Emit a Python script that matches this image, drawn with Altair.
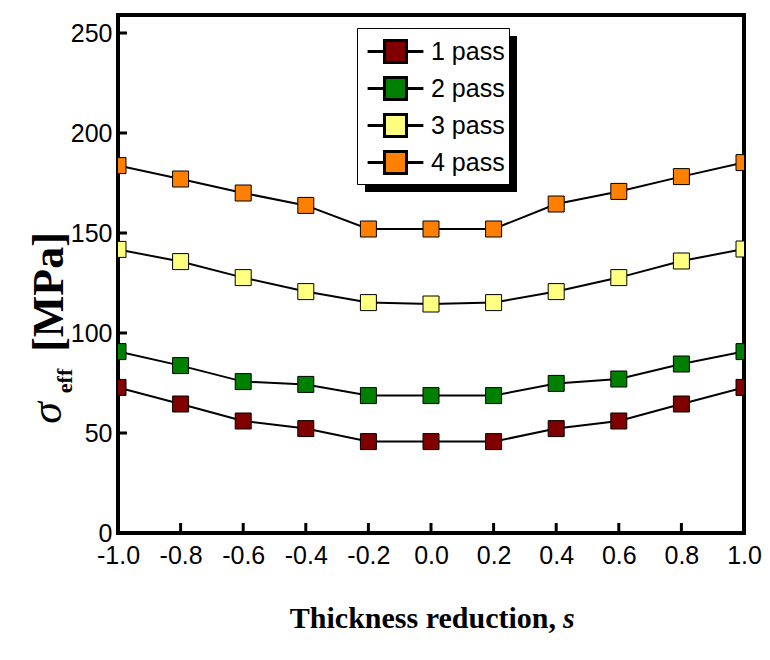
import altair as alt
import pandas as pd

x_vals = [-1.0, -0.8, -0.6, -0.4, -0.2, 0.0, 0.2, 0.4, 0.6, 0.8, 1.0]
pass1 = [72.8, 64.5, 56.0, 52.2, 45.7, 45.7, 45.7, 52.2, 56.0, 64.5, 72.8]
pass2 = [90.7, 83.7, 75.7, 74.3, 68.7, 68.7, 68.7, 74.8, 77.0, 84.5, 90.7]
pass3 = [141.8, 135.7, 127.7, 120.7, 115.2, 114.5, 115.2, 120.7, 127.7, 136.0, 142.0]
pass4 = [183.7, 177.0, 170.0, 163.8, 152.0, 152.0, 152.0, 164.5, 170.8, 178.2, 185.2]
series_names = ["1 pass", "2 pass", "3 pass", "4 pass"]
series_colors = ["#800000", "#008000", "#FFFF80", "#FF8000"]
x_ticks = [-1.0, -0.8, -0.6, -0.4, -0.2, 0.0, 0.2, 0.4, 0.6, 0.8, 1.0]
y_ticks = [0, 50, 100, 150, 200, 250]

rows = []
for name, vals in zip(series_names, [pass1, pass2, pass3, pass4]):
    for xv, yv in zip(x_vals, vals):
        rows.append({"s": xv, "v": yv, "series": name})
df = pd.DataFrame(rows)

W, H = 626, 518
LABEL_FONT = "Liberation Sans"
LBL_EXPR = "datum.value < 0 ? '-' + format(-datum.value, '.1f') : format(datum.value, '.1f')"

xscale = alt.Scale(domain=[-1, 1], nice=False, zero=False)
yscale = alt.Scale(domain=[0, 259], nice=False)

xaxis = alt.Axis(values=x_ticks, labelExpr=LBL_EXPR, ticks=False, domain=False, grid=False,
                 labelFont=LABEL_FONT, labelFontSize=25, labelColor="black",
                 labelPadding=10, labelFlush=False, labelOverlap=False, title=None)
yaxis = alt.Axis(values=y_ticks, ticks=False, domain=False, grid=False,
                 labelFont=LABEL_FONT, labelFontSize=25, labelColor="black",
                 labelPadding=6, labelFlush=False, labelOverlap=False, title=None)

base = alt.Chart(df)

lines = base.mark_line(color="black", strokeWidth=2, clip=True).encode(
    x=alt.X("s:Q", scale=xscale, axis=xaxis),
    y=alt.Y("v:Q", scale=yscale, axis=yaxis),
    detail="series:N",
)

legend_path = "M-1.55,0H-0.61M0.61,0H1.55M-0.61,-0.61H0.61V0.61H-0.61Z"

points = base.mark_point(shape="square", filled=True, size=256, stroke="black",
                         strokeWidth=1, opacity=1, clip=True).encode(
    x=alt.X("s:Q", scale=xscale),
    y=alt.Y("v:Q", scale=yscale),
    color=alt.Color("series:N", scale=alt.Scale(domain=series_names, range=series_colors),
                    legend=alt.Legend(title=None, orient="none", legendX=239, legendY=13,
                                      symbolType=legend_path, symbolSize=1296,
                                      symbolStrokeColor="black", symbolStrokeWidth=3,
                                      symbolOpacity=1, symbolOffset=15,
                                      labelFont=LABEL_FONT, labelFontSize=25,
                                      labelColor="black", labelOffset=16,
                                      fillColor="white", strokeColor="black",
                                      padding=4, rowPadding=0)),
)

xt = pd.DataFrame({"t": x_ticks[1:-1]})
yt = pd.DataFrame({"t": y_ticks[1:]})
xtick_layer = alt.Chart(xt).mark_rule(color="black", strokeWidth=3).encode(
    x=alt.X("t:Q", scale=xscale), y=alt.value(H), y2=alt.value(H - 10))
ytick_layer = alt.Chart(yt).mark_rule(color="black", strokeWidth=3).encode(
    y=alt.Y("t:Q", scale=yscale), x=alt.value(0), x2=alt.value(9))

shadow = alt.Chart(pd.DataFrame({"a": [0]})).mark_rect(color="black").encode(
    x=alt.value(247), x2=alt.value(399), y=alt.value(21), y2=alt.value(177))

one = pd.DataFrame({"a": [0]})
xtitle_main = alt.Chart(one).mark_text(text="Thickness reduction,", font="Liberation Serif",
                                       fontSize=30, fontWeight="bold", align="right",
                                       baseline="alphabetic", color="black").encode(
    x=alt.value(438), y=alt.value(613))
xtitle_s = alt.Chart(one).mark_text(text="s", font="Liberation Serif", fontSize=30,
                                    fontWeight="bold", fontStyle="italic", align="left",
                                    baseline="alphabetic", color="black").encode(
    x=alt.value(445), y=alt.value(613))
ytitle_sigma = alt.Chart(one).mark_text(text="σ", font="Liberation Serif", fontSize=44,
                                        fontStyle="italic", align="center", angle=270,
                                        baseline="alphabetic", color="black").encode(
    x=alt.value(-57), y=alt.value(398))
ytitle_eff = alt.Chart(one).mark_text(text="eff", font="Liberation Serif", fontSize=22,
                                      fontWeight="bold", align="center", angle=270,
                                      baseline="alphabetic", color="black").encode(
    x=alt.value(-46), y=alt.value(366))
ytitle_unit = alt.Chart(one).mark_text(text="[MPa]", font="Liberation Serif", fontSize=44,
                                       fontWeight="bold", align="center", angle=270,
                                       baseline="alphabetic", color="black").encode(
    x=alt.value(-55), y=alt.value(277))

chart = alt.layer(shadow, xtick_layer, ytick_layer, lines, points,
                  xtitle_main, xtitle_s, ytitle_sigma, ytitle_eff, ytitle_unit).properties(
    width=W, height=H,
    autosize=alt.AutoSizeParams(type="none"),
    padding={"left": 110, "top": 7, "right": 18, "bottom": 110},
).configure(background="white").configure_view(stroke="black", strokeWidth=4)

chart.save("out.html", embed_options={"renderer": "svg", "actions": False})
